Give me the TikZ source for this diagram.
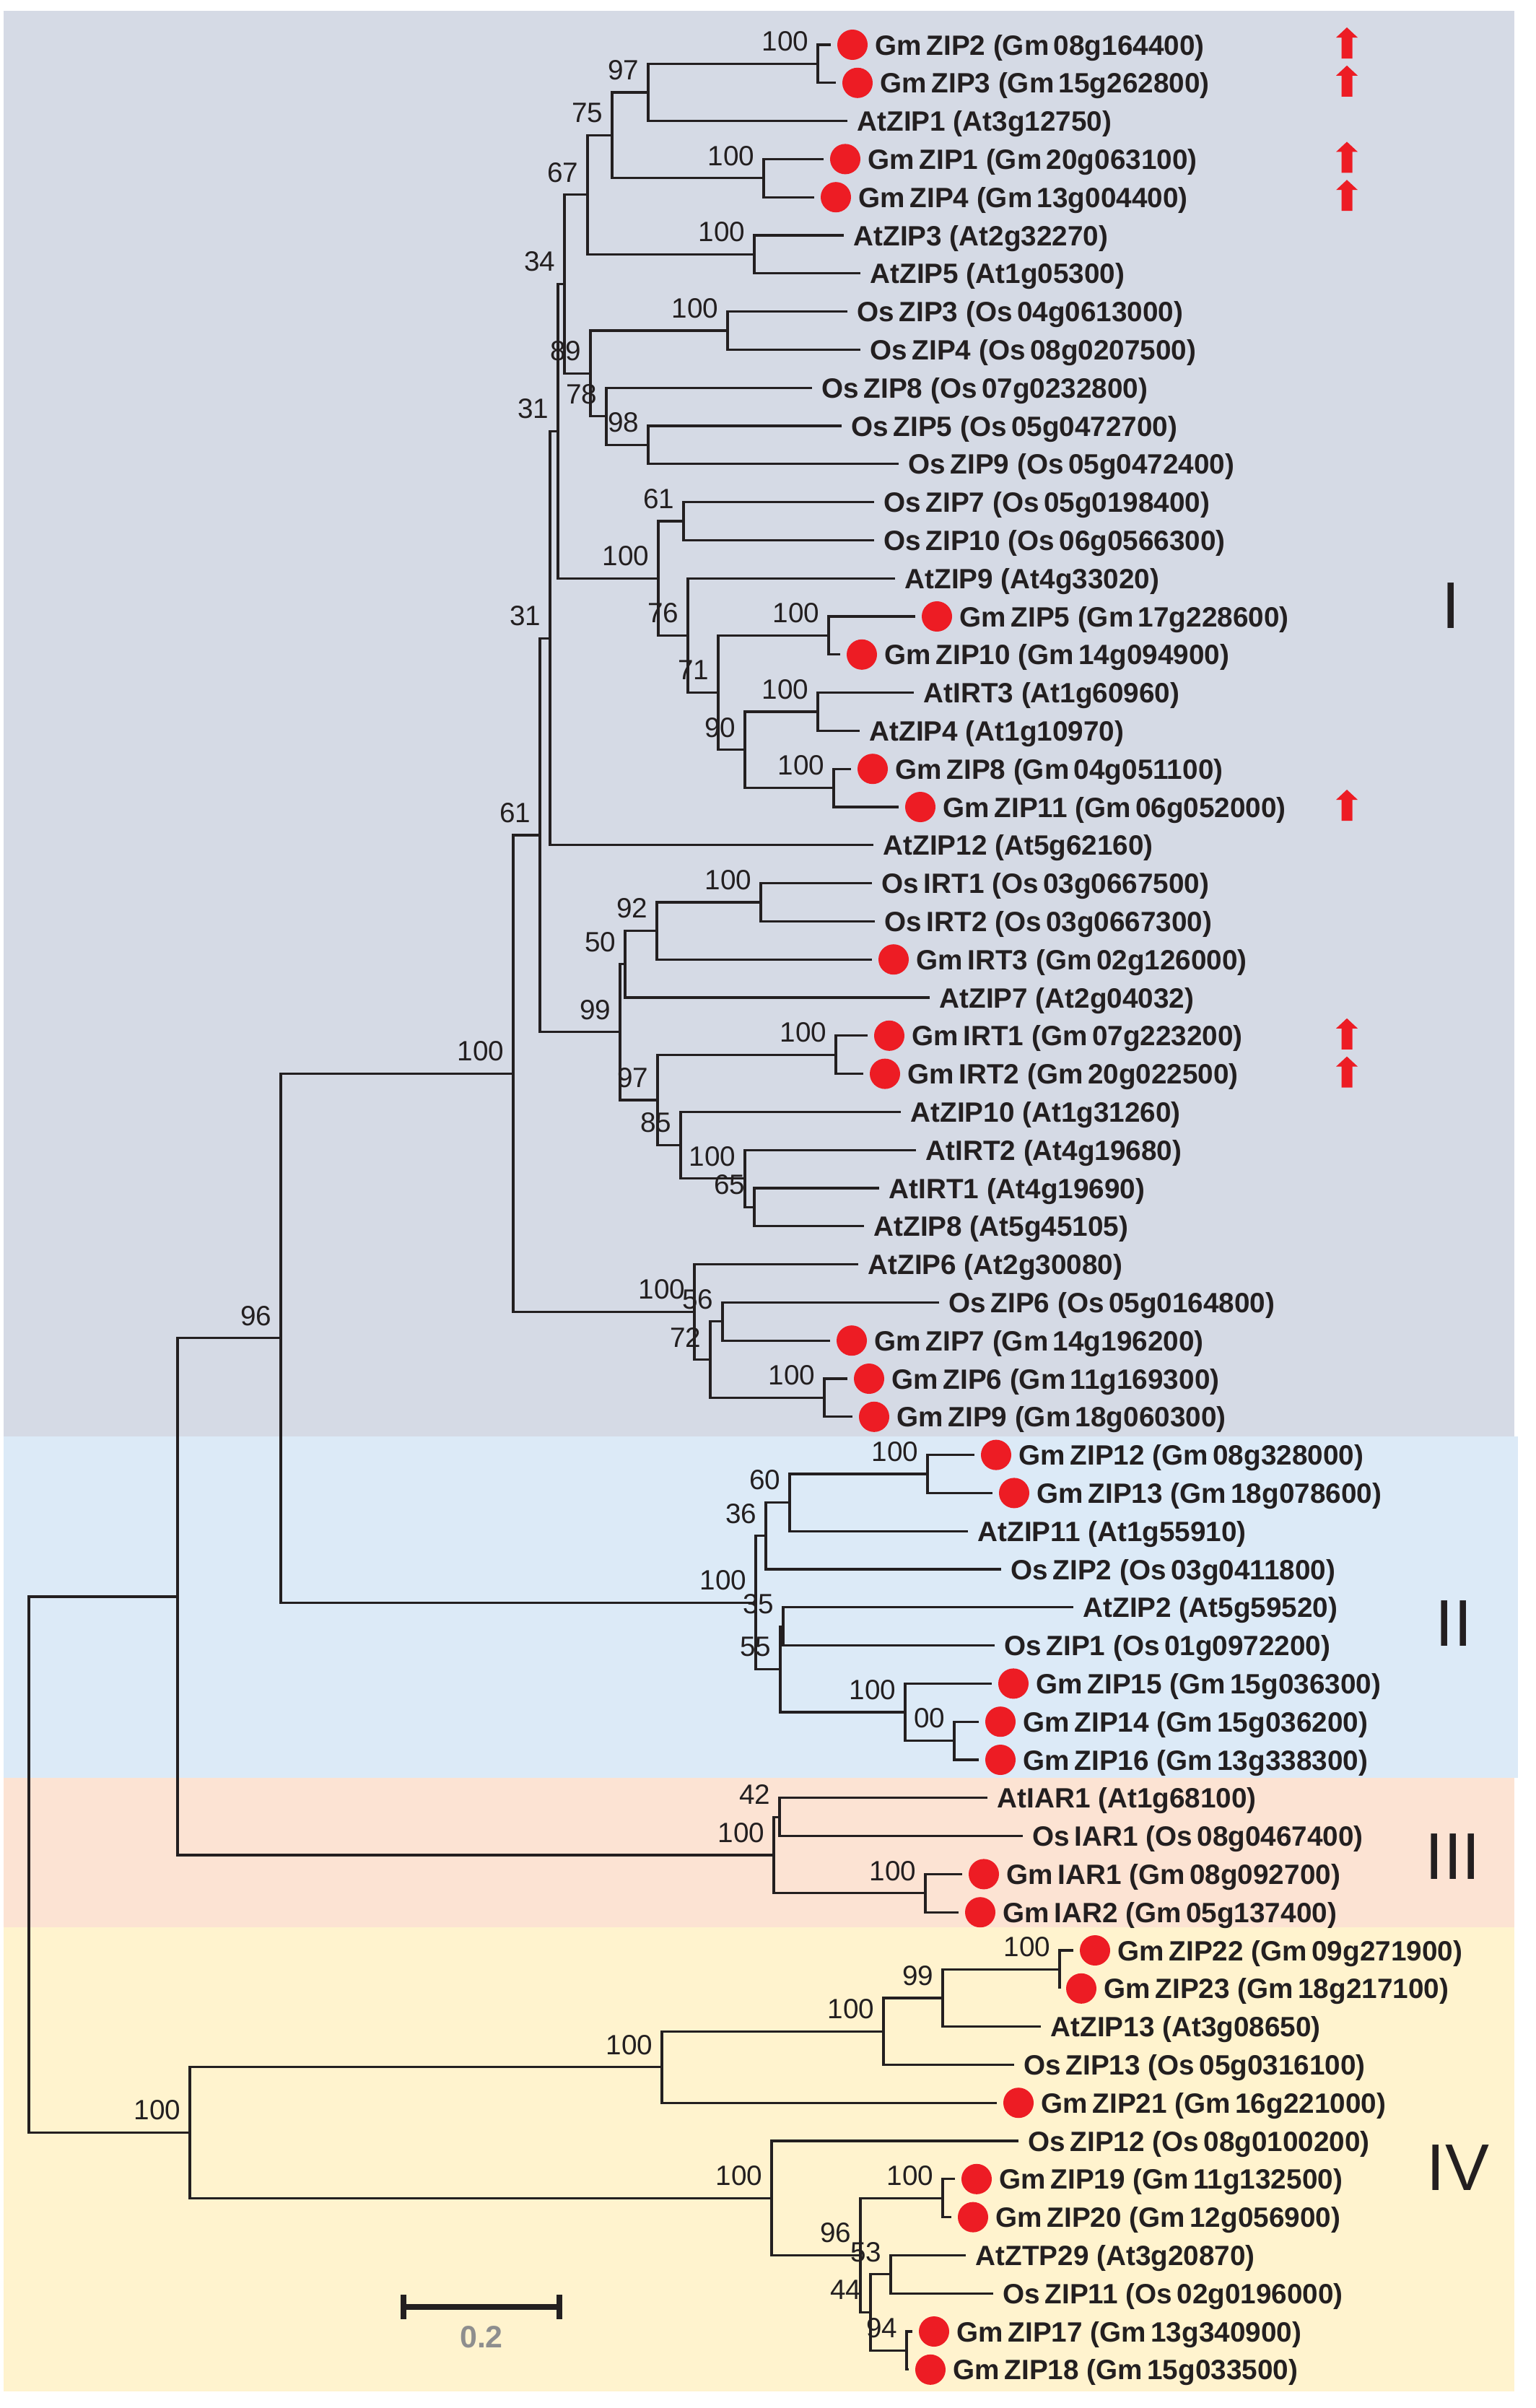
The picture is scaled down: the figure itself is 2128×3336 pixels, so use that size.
\documentclass[tikz,border=0pt]{standalone}
\usepackage{fontspec}
\setmainfont{Liberation Sans}
\usepackage{tikz}

\definecolor{cladeI}{RGB}{213,218,229}
\definecolor{cladeII}{RGB}{220,234,247}
\definecolor{cladeIII}{RGB}{252,227,211}
\definecolor{cladeIV}{RGB}{255,243,206}
\definecolor{zipred}{RGB}{237,28,36}
\definecolor{inkdark}{RGB}{35,31,32}
\definecolor{barg}{RGB}{142,142,142}

\begin{document}
\begin{tikzpicture}[x=0.01cm,y=-0.01cm]
      \tikzstyle{branch}=[draw=inkdark,line width=0.9pt]
      \tikzstyle{boot}=[anchor=east,inner sep=0pt,text=inkdark,font=\fontsize{11}{13}\selectfont]
      \tikzstyle{leaf}=[anchor=base west,inner sep=0pt,text=inkdark,font=\fontsize{11}{13}\selectfont\bfseries]
      \tikzstyle{soy}=[circle,fill=zipred,inner sep=0pt,minimum size=0.42cm]
      \tikzstyle{clade}=[inner sep=0pt,text=inkdark,font=\fontsize{26}{30}\selectfont]
      \tikzset{uparrow/.pic={\fill[zipred] (-7.5,19) -- (-7.5,-10) -- (-15,-10) -- (0,-24) -- (15,-10) -- (7.5,-10) -- (7.5,19) -- cycle;}}
      \useasboundingbox (0,0) rectangle (2128,3336);
      % subfamily shading
      \fill[cladeI] (5,15) rectangle (2098,1990);
      \fill[cladeII] (5,1990) rectangle (2103,2463);
      \fill[cladeIII] (5,2463) rectangle (2098,2670);
      \fill[cladeIV] (5,2670) rectangle (2098,3313);
      % leaves: row/name/tip/soybean/text
      \foreach \i/\nm/\tip/\sym/\txt in {
        1/GmZIP2/1151/1/{Gm\,ZIP2 (Gm\,08g164400)},
        2/GmZIP3/1158/1/{Gm\,ZIP3 (Gm\,15g262800)},
        3/AtZIP1/1174/0/{AtZIP1 (At3g12750)},
        4/GmZIP1/1141/1/{Gm\,ZIP1 (Gm\,20g063100)},
        5/GmZIP4/1128/1/{Gm\,ZIP4 (Gm\,13g004400)},
        6/AtZIP3/1169/0/{AtZIP3 (At2g32270)},
        7/AtZIP5/1192/0/{AtZIP5 (At1g05300)},
        8/OsZIP3/1174/0/{Os\,ZIP3 (Os\,04g0613000)},
        9/OsZIP4/1192/0/{Os\,ZIP4 (Os\,08g0207500)},
        10/OsZIP8/1125/0/{Os\,ZIP8 (Os\,07g0232800)},
        11/OsZIP5/1166/0/{Os\,ZIP5 (Os\,05g0472700)},
        12/OsZIP9/1245/0/{Os\,ZIP9 (Os\,05g0472400)},
        13/OsZIP7/1211/0/{Os\,ZIP7 (Os\,05g0198400)},
        14/OsZIP10/1211/0/{Os\,ZIP10 (Os\,06g0566300)},
        15/AtZIP9/1240/0/{AtZIP9 (At4g33020)},
        16/GmZIP5/1268/1/{Gm\,ZIP5 (Gm\,17g228600)},
        17/GmZIP10/1164/1/{Gm\,ZIP10 (Gm\,14g094900)},
        18/AtIRT3/1266/0/{AtIRT3 (At1g60960)},
        19/AtZIP4/1191/0/{AtZIP4 (At1g10970)},
        20/GmZIP8/1179/1/{Gm\,ZIP8 (Gm\,04g051100)},
        21/GmZIP11/1245/1/{Gm\,ZIP11 (Gm\,06g052000)},
        22/AtZIP12/1210/0/{AtZIP12 (At5g62160)},
        23/OsIRT1/1208/0/{Os\,IRT1 (Os\,03g0667500)},
        24/OsIRT2/1212/0/{Os\,IRT2 (Os\,03g0667300)},
        25/GmIRT3/1208/1/{Gm\,IRT3 (Gm\,02g126000)},
        26/AtZIP7/1288/0/{AtZIP7 (At2g04032)},
        27/GmIRT1/1202/1/{Gm\,IRT1 (Gm\,07g223200)},
        28/GmIRT2/1196/1/{Gm\,IRT2 (Gm\,20g022500)},
        29/AtZIP10/1248/0/{AtZIP10 (At1g31260)},
        30/AtIRT2/1269/0/{AtIRT2 (At4g19680)},
        31/AtIRT1/1218/0/{AtIRT1 (At4g19690)},
        32/AtZIP8/1197/0/{AtZIP8 (At5g45105)},
        33/AtZIP6/1189/0/{AtZIP6 (At2g30080)},
        34/OsZIP6/1301/0/{Os\,ZIP6 (Os\,05g0164800)},
        35/GmZIP7/1150/1/{Gm\,ZIP7 (Gm\,14g196200)},
        36/GmZIP6/1174/1/{Gm\,ZIP6 (Gm\,11g169300)},
        37/GmZIP9/1181/1/{Gm\,ZIP9 (Gm\,18g060300)},
        38/GmZIP12/1350/1/{Gm\,ZIP12 (Gm\,08g328000)},
        39/GmZIP13/1375/1/{Gm\,ZIP13 (Gm\,18g078600)},
        40/AtZIP11/1341/0/{AtZIP11 (At1g55910)},
        41/OsZIP2/1387/0/{Os\,ZIP2 (Os\,03g0411800)},
        42/AtZIP2/1487/0/{AtZIP2 (At5g59520)},
        43/OsZIP1/1378/0/{Os\,ZIP1 (Os\,01g0972200)},
        44/GmZIP15/1374/1/{Gm\,ZIP15 (Gm\,15g036300)},
        45/GmZIP14/1356/1/{Gm\,ZIP14 (Gm\,15g036200)},
        46/GmZIP16/1356/1/{Gm\,ZIP16 (Gm\,13g338300)},
        47/AtIAR1/1368/0/{AtIAR1 (At1g68100)},
        48/OsIAR1/1417/0/{Os\,IAR1 (Os\,08g0467400)},
        49/GmIAR1/1333/1/{Gm\,IAR1 (Gm\,08g092700)},
        50/GmIAR2/1328/1/{Gm\,IAR2 (Gm\,05g137400)},
        51/GmZIP22/1487/1/{Gm\,ZIP22 (Gm\,09g271900)},
        52/GmZIP23/1468/1/{Gm\,ZIP23 (Gm\,18g217100)},
        53/AtZIP13/1442/0/{AtZIP13 (At3g08650)},
        54/OsZIP13/1405/0/{Os\,ZIP13 (Os\,05g0316100)},
        55/GmZIP21/1381/1/{Gm\,ZIP21 (Gm\,16g221000)},
        56/OsZIP12/1411/0/{Os\,ZIP12 (Os\,08g0100200)},
        57/GmZIP19/1323/1/{Gm\,ZIP19 (Gm\,11g132500)},
        58/GmZIP20/1318/1/{Gm\,ZIP20 (Gm\,12g056900)},
        59/AtZTP29/1338/0/{AtZTP29 (At3g20870)},
        60/OsZIP11/1376/0/{Os\,ZIP11 (Os\,02g0196000)},
        61/GmZIP17/1264/1/{Gm\,ZIP17 (Gm\,13g340900)},
        62/GmZIP18/1259/1/{Gm\,ZIP18 (Gm\,15g033500)}}{
        \pgfmathsetmacro\yy{62+52.8*(\i-1)}
        \coordinate (\nm) at (\tip,\yy);
        \ifnum\sym=1
          \node[soy] (d\nm) at (\tip+30,\yy) {};
          \node[leaf] (t\nm) at (\tip+61,\yy+14) {\txt};
        \else
          \node[leaf] (t\nm) at (\tip+13,\yy+14) {\txt};
        \fi
      }
      % inner nodes: name/x/y/bootstrap
      \foreach \nm/\x/\y/\bs in {a1/1133/88.4/100, a2/898/128/97, a3/1058/246.8/100,
        a4/848/187.4/75, a5/1045/352.4/100, a6/814/269.9/67, a7/1008/458/100,
        a8/898/616.4/98, a9/840/576.8/78, a10/818/517.4/89, a11/782/393.65/34,
        a12/947/722/61, a13/1148/880.4/100, a14/1133/986/100, a15/1155/1091.6/100,
        a16/1032/1038.8/90, a17/995/959.6/71, a18/953/880.4/76, a19/912/801.2/100,
        a20/773/597.4/31, a21/762/884.1/31, a22/1054/1250/100, a23/910/1289.6/92,
        a24/866/1335.8/50, a25/1158/1461.2/100, a26/1045/1672.4/65, a27/1032/1632.8/100,
        a28/943/1586.6/85, a29/911/1523.9/97, a30/859/1429.85/99, a31/748/1157/61,
        a32/1001/1830.8/56, a33/1142/1936.4/100, a34/984/1883.6/72, a35/962/1817.6/100,
        a36/711/1487.3/100,
        b1/1285/2042/100, b2/1094/2081.6/60, b3/1061/2127.8/36, b4/1085/2253.2/35,
        b5/1322/2411.6/00, b6/1254/2372/100, b7/1081/2312.6/55, b8/1047/2220.2/100,
        c0/389/1853.75/96,
        d1/1080/2517.2/42, d2/1282/2622.8/100, d3/1072/2570/100,
        e1/1468/2728.4/100, e2/1306/2768/99, e3/1224/2814.2/100, e4/917/2863.7/100,
        e5/1306/3045.2/100, e6/1234/3150.8/53, e7/1256/3256.4/94, e8/1206/3203.6/44,
        e9/1192/3124.4/96, e10/1069/3045.2/100, e11/263/2954.45/100}{
        \coordinate (\nm) at (\x,\y);
        \node[boot] (b\nm) at (\x-12,\y-31) {\bs};
      }
      \coordinate (c1) at (246,2211.9);
      \coordinate (root) at (40,2583.2);
      % branches
      \foreach \c/\p in {GmZIP2/a1, GmZIP3/a1, a1/a2, AtZIP1/a2, GmZIP1/a3, GmZIP4/a3,
        a2/a4, a3/a4, AtZIP3/a5, AtZIP5/a5, a4/a6, a5/a6, OsZIP3/a7, OsZIP4/a7,
        OsZIP5/a8, OsZIP9/a8, OsZIP8/a9, a8/a9, a7/a10, a9/a10, a6/a11, a10/a11,
        OsZIP7/a12, OsZIP10/a12, GmZIP5/a13, GmZIP10/a13, AtIRT3/a14, AtZIP4/a14,
        GmZIP8/a15, GmZIP11/a15, a14/a16, a15/a16, a13/a17, a16/a17,
        AtZIP9/a18, a17/a18, a12/a19, a18/a19, a11/a20, a19/a20, a20/a21, AtZIP12/a21,
        OsIRT1/a22, OsIRT2/a22, a22/a23, GmIRT3/a23, a23/a24, AtZIP7/a24,
        GmIRT1/a25, GmIRT2/a25, AtIRT1/a26, AtZIP8/a26, AtIRT2/a27, a26/a27,
        AtZIP10/a28, a27/a28, a25/a29, a28/a29, a24/a30, a29/a30, a21/a31, a30/a31,
        OsZIP6/a32, GmZIP7/a32, GmZIP6/a33, GmZIP9/a33, a32/a34, a33/a34,
        AtZIP6/a35, a34/a35, a31/a36, a35/a36,
        GmZIP12/b1, GmZIP13/b1, b1/b2, AtZIP11/b2, b2/b3, OsZIP2/b3,
        AtZIP2/b4, OsZIP1/b4, GmZIP14/b5, GmZIP16/b5, GmZIP15/b6, b5/b6,
        b4/b7, b6/b7, b3/b8, b7/b8, a36/c0, b8/c0,
        AtIAR1/d1, OsIAR1/d1, GmIAR1/d2, GmIAR2/d2, d1/d3, d2/d3, c0/c1, d3/c1,
        GmZIP22/e1, GmZIP23/e1, e1/e2, AtZIP13/e2, e2/e3, OsZIP13/e3, e3/e4, GmZIP21/e4,
        GmZIP19/e5, GmZIP20/e5, AtZTP29/e6, OsZIP11/e6, GmZIP17/e7, GmZIP18/e7,
        e6/e8, e7/e8, e5/e9, e8/e9, OsZIP12/e10, e9/e10, e4/e11, e10/e11,
        c1/root, e11/root}{
        \draw[branch] (\c) -| (\p);
      }
      % induced genes
      \foreach \i in {1,2,4,5,21,27,28} {
        \pgfmathsetmacro\yy{62+52.8*(\i-1)}
        \pic at (1866,\yy) {uparrow};
      }
      \node[clade] (cI) at (2010,839) {I};
      \node[clade] (cII) at (2014,2249) {II};
      \node[clade] (cIII) at (2013,2572) {III};
      \node[clade] (cIV) at (2020,3003) {IV};
      % scale bar
      \coordinate (sbl) at (559,3196);
      \coordinate (sbr) at (775,3196);
      \draw[inkdark,line width=2.3pt] (sbl) -- (sbr);
      \draw[inkdark,line width=2pt] (sbl) ++(0,-17) -- ++(0,34);
      \draw[inkdark,line width=2pt] (sbr) ++(0,-17) -- ++(0,34);
      \node[text=barg,inner sep=0pt,font=\fontsize{12.2}{14}\selectfont\bfseries] (sbt) at (667,3238) {0.2};
    \end{tikzpicture}
\end{document}
